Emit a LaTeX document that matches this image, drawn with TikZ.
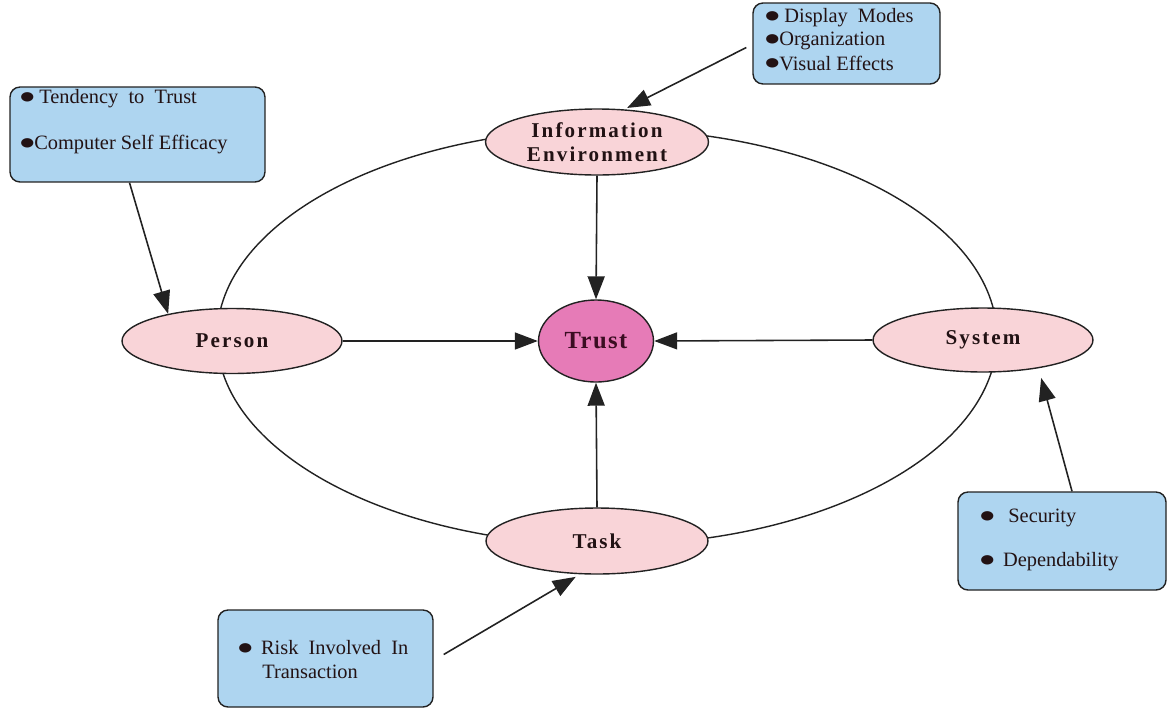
\documentclass[tikz,border=0pt]{standalone}
\usepackage{fontspec}
\setmainfont{Liberation Serif}
\newfontfamily\symfont{DejaVu Sans}
\usepackage{graphicx}
\usetikzlibrary{arrows.meta,calc,shapes.geometric}
\definecolor{pinkfill}{HTML}{F9D4D8}
\definecolor{trustfill}{HTML}{E67BB7}
\definecolor{boxfill}{HTML}{AED5F0}
\definecolor{edgecol}{HTML}{222222}
\definecolor{lbl}{HTML}{221214}
\definecolor{trustlbl}{HTML}{3B0D22}
\newcommand{\bul}{\raisebox{1.9pt}{\symfont\fontsize{7}{8}\selectfont\scalebox{1.3}[1]{●}}}
\begin{document}
\begin{tikzpicture}[x=0.02cm,y=-0.02cm,
  factor/.style={ellipse, draw=edgecol, line width=0.8pt, fill=pinkfill, inner sep=0pt, text=lbl,
    font=\fontsize{12}{13.6}\selectfont\bfseries\addfontfeatures{LetterSpace=10}},
  trustnode/.style={ellipse, draw=edgecol, line width=0.8pt, fill=trustfill, inner sep=0pt, text=trustlbl,
    font=\fontsize{14}{16}\selectfont\bfseries\addfontfeatures{LetterSpace=6}},
  infobox/.style={draw=edgecol, line width=0.8pt, fill=boxfill, rounded corners=0.2cm, inner sep=0pt},
  itm/.style={anchor=west, inner sep=0pt, font=\fontsize{11.6}{13.5}\selectfont, text=lbl},
  conn/.style={draw=edgecol, line width=0.9pt, -{Triangle[length=0.46cm,width=0.34cm]}}
]
\useasboundingbox (0,0) rectangle (1168,710);
\fill[white] (0,0) rectangle (1168,710);

% big ellipse
\draw[edgecol, line width=0.8pt] (607,337) ellipse [x radius=7.8cm, y radius=4.16cm];

% factor nodes
\node[factor, minimum width=4.46cm, minimum height=1.32cm, align=center] (info) at (597,142) {Information\\Environment};
\node[factor, minimum width=4.4cm, minimum height=1.3cm] (person) at (232,341) {Person};
\node[factor, minimum width=4.4cm, minimum height=1.28cm] (system) at (983,340) {\raisebox{3pt}{System}};
\node[factor, minimum width=4.44cm, minimum height=1.32cm] (task) at (597,541) {Task};
\node[trustnode, minimum width=2.3cm, minimum height=1.64cm] (trust) at (596,341) {Trust};

% info boxes
\node[infobox, minimum width=5.1cm, minimum height=1.9cm] (tend) at (137.5,134.5) {};
\node[infobox, minimum width=3.74cm, minimum height=1.62cm] (disp) at (846.5,43.5) {};
\node[infobox, minimum width=4.16cm, minimum height=1.96cm] (sec) at (1062,541) {};
\node[infobox, minimum width=4.3cm, minimum height=1.94cm] (risk) at (325.5,658.5) {};

% box texts
\node[itm] (t1) at (20,99) {\bul\ Tendency\ \ to\ \ Trust};
\node[itm] (t2) at (20,145) {\bul Computer Self Efficacy};
\node[itm] (d1) at (765,18) {\bul\ Display\ \ Modes};
\node[itm] (d2) at (765,41) {\bul Organization};
\node[itm] (d3) at (765,63) {\bul Visual Effects};
\node[itm] (s1) at (980,518) {\bul\hspace{8pt}Security};
\node[itm] (s2) at (980,562) {\bul\hspace{5pt}Dependability};
\node[itm] (r1) at (238,648) {\bul\hspace{5pt}Risk\ \ Involved\ \ In};
\node[itm] (r2) at (262,672) {Transaction};

% connectors to Trust
\draw[conn] (info.south) -- (trust.north);
\draw[conn] (person.east) -- (trust.west);
\draw[conn] (system.west) -- (trust.east);
\draw[conn] (task.north) -- (trust.south);

% connectors from boxes
\draw[conn] ($(tend.south)+(-8,0)$) -- (person.157);
\draw[conn, shorten >=0.06cm] ($(disp.west)+(-6,4)$) -- (info.50);
\draw[conn, shorten >=0.2cm] ($(sec.north)+(10,0)$) -- (system.-27);
\draw[conn, shorten >=0.1cm] ($(risk.east)+(10,-4)$) -- (task.-117);
\end{tikzpicture}
\end{document}
